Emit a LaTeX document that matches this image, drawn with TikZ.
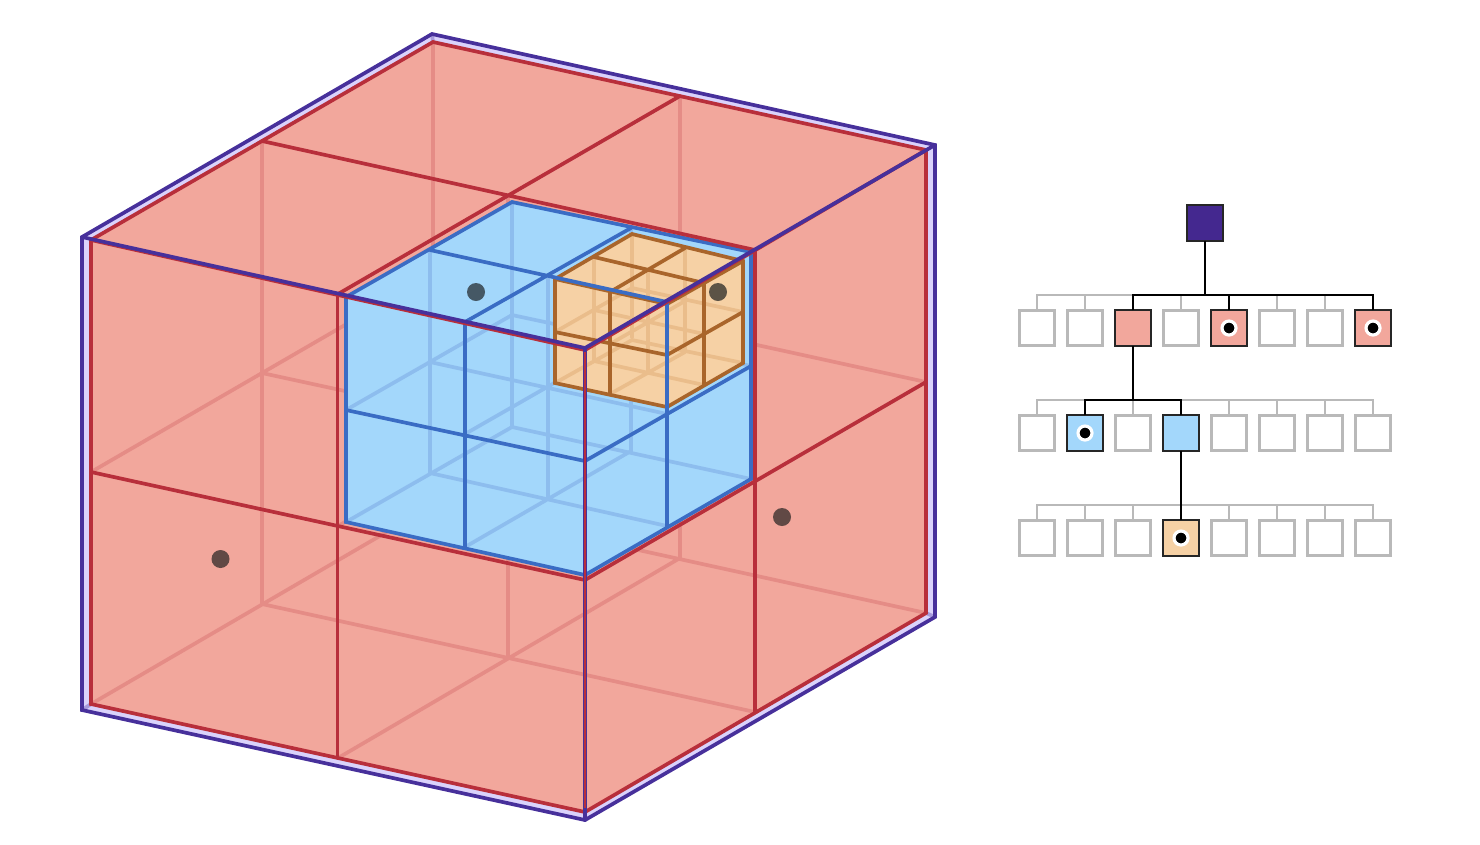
\documentclass[tikz,border=0pt]{standalone}
\definecolor{purpL}{HTML}{47309B}
\definecolor{purpF}{HTML}{DAD2FB}
\definecolor{purpH}{HTML}{A79ADB}
\definecolor{redL}{HTML}{B82F3B}
\definecolor{redF}{HTML}{F2A79C}
\definecolor{redH}{HTML}{E58C86}
\definecolor{bluL}{HTML}{3A6CC4}
\definecolor{bluF}{HTML}{A3D7FB}
\definecolor{bluH}{HTML}{8DBDEE}
\definecolor{oraL}{HTML}{A9652B}
\definecolor{oraF}{HTML}{F6D1A5}
\definecolor{oraH}{HTML}{EABD8B}
\definecolor{rootF}{HTML}{44288F}
\definecolor{greyL}{HTML}{B9B9B9}
\tikzset{
  x=0.01cm,y=-0.01cm,
  cubeline/.style={line width=1.05pt,line join=miter,line cap=round},
  treebox/.style={draw=greyL,line width=0.85pt,fill=white,minimum size=0.355cm,inner sep=0pt,outer sep=0pt},
  livebox/.style={draw=black!85,line width=0.65pt,minimum size=0.355cm,inner sep=0pt,outer sep=0pt},
  mark dot/.style={circle,fill=black,draw=white,line width=0.9pt,minimum size=0.14cm,inner sep=0pt},
  greybus/.style={draw=greyL,line width=0.8pt},
  livebus/.style={draw=black,line width=0.8pt},
  celldot/.style={circle,minimum size=0.18cm,inner sep=0pt}
}
\begin{document}
\begin{tikzpicture}
\useasboundingbox (0,0) rectangle (1480,844);
% outer cube
\fill[purpF] (432,34)--(935,145)--(935,617)--(585,820)--(82,710)--(82,237)--cycle;
\draw[cubeline,purpH] (432,34)--(433,42) (82,710)--(91,704) (935,617)--(926,613);
% red cube
\fill[redF] (433,42)--(926,150)--(926,613)--(585,812)--(91,704)--(91,240)--cycle;
\begin{scope}[cubeline,redH]
\draw (433,42)--(433,505) (262,141)--(262,604) (680,96)--(680,558) (508,195)--(508,658);
\draw (91,472)--(433,274)--(926,382) (262,373)--(755,480) (680,327)--(338,526);
\draw (91,704)--(433,505)--(926,613) (262,604)--(755,712) (680,558)--(338,758);
\end{scope}
% blue cube
\fill[bluF] (512,202)--(751,252)--(751,479)--(585,575)--(346,522)--(346,297)--cycle;
\begin{scope}[cubeline,bluH]
\draw (512,202)--(512,427) (430,250)--(430,473) (631,228)--(631,451) (548,276)--(548,498);
\draw (346,410)--(512,315)--(751,366) (430,362)--(667,414) (631,339)--(465,434);
\draw (346,522)--(512,427)--(751,479) (430,473)--(667,526) (631,451)--(465,547);
\end{scope}
% orange cube
\fill[oraF] (632,234)--(743,261)--(743,363)--(667,407)--(555,383)--(555,279)--cycle;
\begin{scope}[cubeline,oraH]
\draw (632,234)--(632,337) (594,257)--(594,360) (685,248)--(685,350) (648,270)--(648,372);
\draw (555,332)--(632,288)--(743,312) (594,310)--(704,334) (685,301)--(610,344);
\draw (555,383)--(632,340)--(743,363) (594,361)--(704,385) (685,352)--(610,394);
\end{scope}
\begin{scope}[cubeline,oraL]
\draw (555,279)--(632,234)--(743,261)--(743,363)--(667,407)--(555,383)--cycle;
\draw (555,279)--(667,304)--(743,261) (667,304)--(667,407);
\draw (594,257)--(704,283) (685,248)--(610,292);
\draw (610,292)--(610,394) (704,283)--(704,385);
\draw (555,332)--(667,355)--(743,312);
\end{scope}
% blue lines
\begin{scope}[cubeline,bluL]
\draw (512,202)--(751,252)--(751,479)--(585,575)--(346,522)--(346,297)--cycle;
\draw (430,250)--(667,302) (631,228)--(465,322);
\draw (465,322)--(465,547) (667,302)--(667,526);
\draw (346,410)--(585,461)--(751,366);
\end{scope}
% red lines
\begin{scope}[cubeline,redL]
\draw (433,42)--(926,150)--(926,613)--(585,812)--(91,704)--(91,240)--cycle;
\draw (91,240)--(585,350)--(926,150) (585,350)--(585,812);
\draw (262,141)--(755,250) (680,96)--(338,294);
\draw (337.5,294)--(337.5,758) (755,250)--(755,712);
\draw (91,472)--(585,580)--(926,382);
\end{scope}
% outer lines
\begin{scope}[cubeline,purpL]
\draw (432,34)--(935,145)--(935,617)--(585,820)--(82,710)--(82,237)--cycle;
\draw (82,237)--(585,348)--(935,145);
\draw (585,348)--(585,820);
\end{scope}
\draw[redL,line width=0.5pt] (585,352)--(585,808);
% cell dots
\node[celldot,fill={rgb,255:red,69;green,88;blue,101}] (d1) at (476,292) {};
\node[celldot,fill={rgb,255:red,92;green,83;blue,70}] (d2) at (718,292) {};
\node[celldot,fill={rgb,255:red,97;green,73;blue,69}] (d3) at (220.5,559) {};
\node[celldot,fill={rgb,255:red,97;green,73;blue,69}] (d4) at (782,517) {};
% tree
\coordinate (b1) at (1205,295);
\coordinate (b2) at (1133,400);
\coordinate (b3) at (1181,505);
\foreach \c [count=\i] in {1037,1085,1133,1181,1229,1277,1325,1373}{
  \node[treebox] (ra\i) at (\c,328) {};
  \node[treebox] (rb\i) at (\c,433) {};
  \node[treebox] (rc\i) at (\c,538) {};
  \draw[greybus] (ra\i.north) |- (b1);
  \draw[greybus] (rb\i.north) |- (b2);
  \draw[greybus] (rc\i.north) |- (b3);
}
\node[livebox,fill=rootF] (root) at (1205,223) {};
\node[livebox,fill=redF] (la3) at (1133,328) {};
\node[livebox,fill=redF] (la5) at (1229,328) {};
\node[livebox,fill=redF] (la8) at (1373,328) {};
\node[livebox,fill=bluF] (lb2) at (1085,433) {};
\node[livebox,fill=bluF] (lb4) at (1181,433) {};
\node[livebox,fill=oraF] (lc4) at (1181,538) {};
\draw[livebus] (root.south) -- (b1);
\draw[livebus] (la3.north) |- (b1);
\draw[livebus] (la5.north) |- (b1);
\draw[livebus] (la8.north) |- (b1);
\draw[livebus] (la3.south) -- (b2);
\draw[livebus] (lb2.north) |- (b2);
\draw[livebus] (lb4.north) |- (b2);
\draw[livebus] (lb4.south) -- (lc4.north);
\node[mark dot] (ma5) at (la5.center) {};
\node[mark dot] (ma8) at (la8.center) {};
\node[mark dot] (mb2) at (lb2.center) {};
\node[mark dot] (mc4) at (lc4.center) {};
\end{tikzpicture}
\end{document}
